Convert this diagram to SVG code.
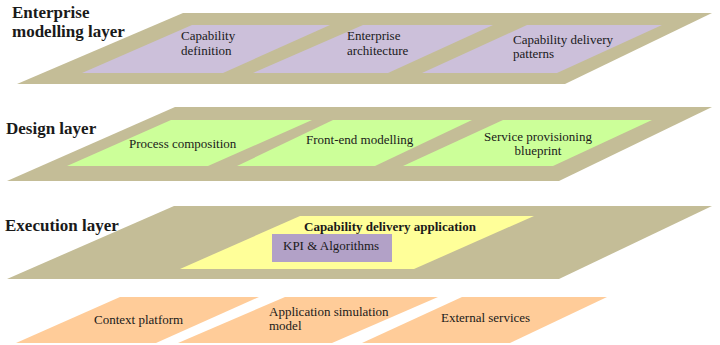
<svg xmlns="http://www.w3.org/2000/svg" width="720" height="345" viewBox="0 0 720 345" font-family="'Liberation Serif', 'Times New Roman', 'DejaVu Serif', serif">
<style>
.tan{fill:#C4BD97}
.lav{fill:#CCC0DA}
.grn{fill:#CCFF99}
.yel{fill:#FFFF99}
.pur{fill:#B2A1C7}
.org{fill:#FFCC99}
.t{font-family:'Liberation Serif','Times New Roman','DejaVu Serif',serif;fill:#1a1a1a}
.hd{font-size:17px;font-weight:bold}
.lb{font-size:13px}
.bd{font-size:13px;font-weight:bold}
</style>
<rect width="720" height="345" fill="#ffffff"/>
<g id="enterprise-layer">
<polygon class="tan" points="183,13 712,13 565,84 17,84"/>
<text class="t hd" x="12" y="18">Enterprise</text>
<text class="t hd" x="12" y="37">modelling layer</text>
</g>
<g id="capability-definition">
<polygon class="lav" points="192,25 330,25 223,73 82,73"/>
<text class="t lb" x="181" y="40">Capability</text>
<text class="t lb" x="181" y="55">definition</text>
</g>
<g id="enterprise-architecture">
<polygon class="lav" points="363,25 493,25 388,73 253,73"/>
<text class="t lb" x="347" y="40">Enterprise</text>
<text class="t lb" x="347" y="55">architecture</text>
</g>
<g id="capability-delivery-patterns">
<polygon class="lav" points="527,25 662,25 557,73 422,73"/>
<text class="t lb" x="513" y="44">Capability delivery</text>
<text class="t lb" x="513" y="58">patterns</text>
</g>
<g id="design-layer">
<polygon class="tan" points="175,107 712,107 559,181 7,181"/>
<text class="t hd" x="6" y="134">Design layer</text>
</g>
<g id="process-composition">
<polygon class="grn" points="171,120 312,120 208,166 67,166"/>
<text class="t lb" x="129" y="148">Process composition</text>
</g>
<g id="front-end-modelling">
<polygon class="grn" points="333,120 472,120 375,166 237,166"/>
<text class="t lb" x="306" y="144">Front-end modelling</text>
</g>
<g id="service-provisioning-blueprint">
<polygon class="grn" points="503,120 652,120 553,166 403,166"/>
<text class="t lb" x="538" y="141" text-anchor="middle">Service provisioning</text>
<text class="t lb" x="538" y="155" text-anchor="middle">blueprint</text>
</g>
<g id="execution-layer">
<polygon class="tan" points="174,206 712,206 559,279 7,279"/>
<text class="t hd" x="5" y="231">Execution layer</text>
</g>
<g id="capability-delivery-application">
<polygon class="yel" points="300,216 534,216 414,269 180,269"/>
<text class="t bd" x="304" y="231">Capability delivery application</text>
</g>
<g id="kpi-algorithms">
<rect class="pur" x="272" y="234" width="120" height="28"/>
<text class="t lb" x="283" y="250">KPI &amp; Algorithms</text>
</g>
<g id="context-platform">
<polygon class="org" points="120,297 259,297 156,343 16,343"/>
<text class="t lb" x="94" y="324">Context platform</text>
</g>
<g id="application-simulation-model">
<polygon class="org" points="285,297 438,297 332,343 178,343"/>
<text class="t lb" x="269" y="316">Application simulation</text>
<text class="t lb" x="269" y="330">model</text>
</g>
<g id="external-services">
<polygon class="org" points="462,297 607,297 510,343 362,343"/>
<text class="t lb" x="441" y="322">External services</text>
</g>
<g id="connectors"/>
</svg>
